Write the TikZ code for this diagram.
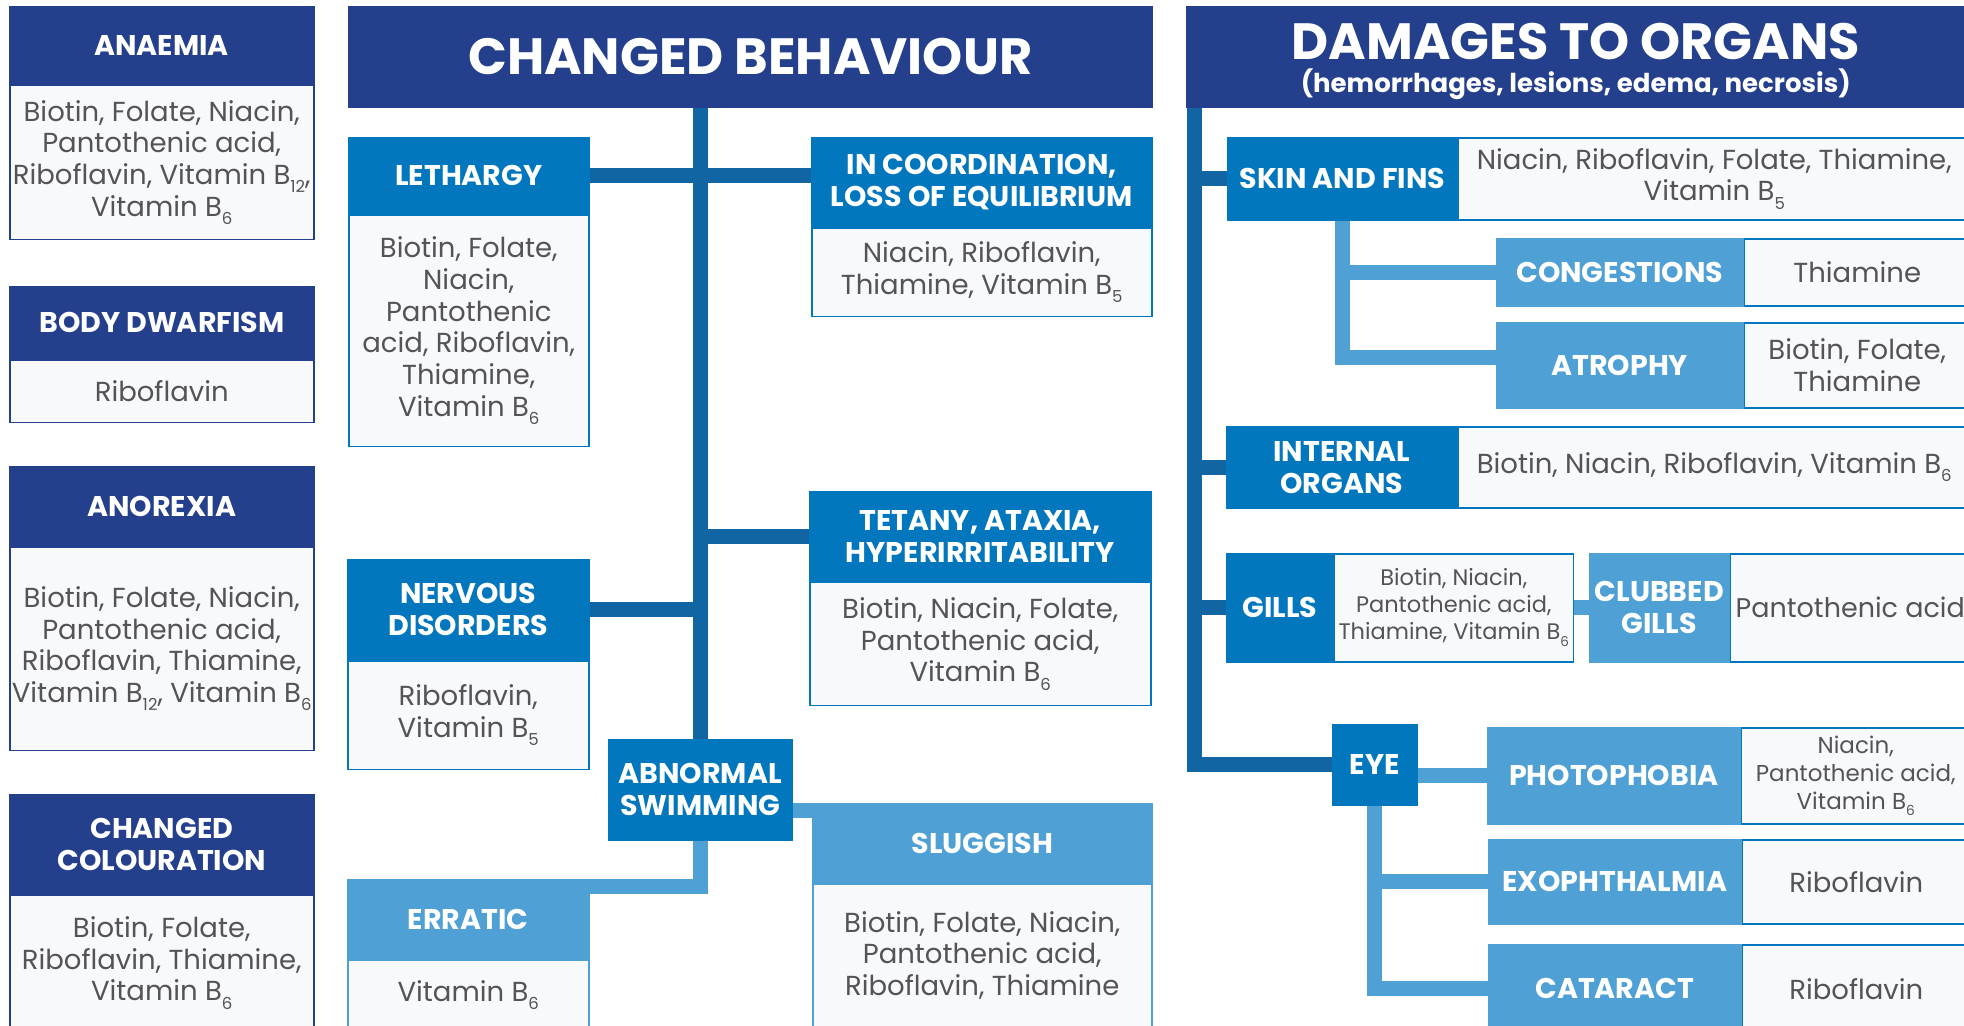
\documentclass[tikz,border=0pt]{standalone}
\usepackage{fontspec}
\setmainfont{Poppins}
\usetikzlibrary{positioning}
\definecolor{navy}{RGB}{36,63,139}
\definecolor{midblue}{RGB}{2,119,190}
\definecolor{lightblue}{RGB}{79,160,213}
\definecolor{linkblue}{RGB}{16,101,162}
\definecolor{cardfill}{RGB}{248,249,251}
\definecolor{cardtext}{RGB}{84,84,88}
\pgfdeclarelayer{background}
\pgfsetlayers{background,main}
\def\headfont{\bfseries\fontsize{28.5}{31.7}\selectfont}
\def\titlefont{\bfseries\fontsize{51}{54}\selectfont}
\def\subtitlefont{\bfseries\fontsize{26}{28}\selectfont}
\def\cardfont{\fontsize{27.5}{31.7}\selectfont}
\def\gillsfont{\fontsize{22.5}{27}\selectfont}
\def\photofont{\fontsize{23}{28}\selectfont}
\newcommand\vsub[1]{\raisebox{-0.3em}{\scalebox{0.6}{#1}}}
\tikzstyle{head}=[rectangle, anchor=north west, inner sep=0pt, text=white, font=\headfont, align=center, line width=1.5pt]
\tikzstyle{navyhead}=[head, fill=navy, draw=navy]
\tikzstyle{bluehead}=[head, fill=midblue, draw=midblue]
\tikzstyle{lighthead}=[head, fill=lightblue, draw=lightblue]
\tikzstyle{card}=[rectangle, anchor=north west, inner sep=0pt, fill=cardfill, text=cardtext, font=\cardfont, align=center, line width=1.5pt]
\tikzset{box/.style 2 args={minimum width=#1, minimum height=#2},
  darklink/.style={draw=linkblue, line width=15pt},
  lightlink/.style={draw=lightblue, line width=15pt}}

\begin{document}
\begin{tikzpicture}[x=1pt, y=-1pt]
\clip (0,0) rectangle (1964,1025);

\node[navyhead, box={304}{77}] (anaemia) at (9,6) {ANAEMIA};
\node[card, draw=navy, box={304}{154}, below=0pt of anaemia] (anaemiatxt) {Biotin, Folate, Niacin,\\Pantothenic acid,\\Riboflavin, Vitamin B\vsub{12},\\Vitamin B\vsub{6}};
\node[navyhead, box={304}{72}] (dwarfism) at (9,286) {BODY DWARFISM};
\node[card, draw=navy, box={304}{62}, below=0pt of dwarfism] (dwarfismtxt) {Riboflavin};
\node[navyhead, box={304}{79}] (anorexia) at (9,466) {ANOREXIA};
\node[card, draw=navy, box={304}{203}, below=0pt of anorexia] (anorexiatxt) {Biotin, Folate, Niacin,\\Pantothenic acid,\\Riboflavin, Thiamine,\\Vitamin B\vsub{12}, Vitamin B\vsub{6}};
\node[navyhead, box={304}{99}] (colour) at (9,794) {CHANGED\\COLOURATION};
\node[card, draw=navy, box={304}{135}, below=0pt of colour] (colourtxt) {Biotin, Folate,\\Riboflavin, Thiamine,\\Vitamin B\vsub{6}};

\node[navyhead, box={803}{100}, font=\titlefont] (behaviour) at (348,6) {CHANGED BEHAVIOUR};
\node[bluehead, box={240}{76}] (lethargy) at (348,137) {LETHARGY};
\node[card, draw=midblue, box={240}{231}, below=0pt of lethargy] (lethargytxt) {Biotin, Folate,\\Niacin,\\Pantothenic\\acid, Riboflavin,\\Thiamine,\\Vitamin B\vsub{6}};
\node[bluehead, box={340}{89}] (incoord) at (811,137) {IN COORDINATION,\\LOSS OF EQUILIBRIUM};
\node[card, draw=midblue, box={340}{88}, below=0pt of incoord] (incoordtxt) {Niacin, Riboflavin,\\Thiamine, Vitamin B\vsub{5}};
\node[bluehead, box={341}{89}] (tetany) at (809,491) {TETANY, ATAXIA,\\HYPERIRRITABILITY};
\node[card, draw=midblue, box={341}{123}, below=0pt of tetany] (tetanytxt) {Biotin, Niacin, Folate,\\Pantothenic acid,\\Vitamin B\vsub{6}};
\node[bluehead, box={241}{100}] (nervous) at (347,559) {NERVOUS\\DISORDERS};
\node[card, draw=midblue, box={241}{108}, below=0pt of nervous] (nervoustxt) {Riboflavin,\\Vitamin B\vsub{5}};
\node[bluehead, box={183}{100}] (abnormal) at (608,739) {ABNORMAL\\SWIMMING};
\node[lighthead, box={339}{79}] (sluggish) at (812,803) {SLUGGISH};
\node[card, draw=lightblue, box={339}{142}, below=0pt of sluggish] (sluggishtxt) {Biotin, Folate, Niacin,\\Pantothenic acid,\\Riboflavin, Thiamine};
\node[lighthead, box={241}{79}] (erratic) at (347,879) {ERRATIC};
\node[card, draw=lightblue, box={241}{70}, below=0pt of erratic] (erratictxt) {Vitamin B\vsub{6}};

\node[navyhead, box={778}{100}] (damages) at (1186,6) {{\titlefont\rule{0pt}{46pt}DAMAGES TO ORGANS}\\[1pt]{\subtitlefont (hemorrhages, lesions, edema, necrosis)}};
\coordinate (orgtrunk) at ([xshift=8pt]damages.south west);
\node[bluehead, box={229}{82}] (skin) at (1227,137) {SKIN AND FINS};
\node[card, draw=midblue, box={512}{82}, right=0pt of skin] (skintxt) {Niacin, Riboflavin, Folate, Thiamine,\\Vitamin B\vsub{5}};
\node[lighthead, box={246}{67}] (congest) at (1496,238) {CONGESTIONS};
\node[card, draw=midblue, box={226}{67}, right=0pt of congest] (congesttxt) {Thiamine};
\node[lighthead, box={246}{85}] (atrophy) at (1496,322) {ATROPHY};
\node[card, draw=midblue, box={226}{85}, right=0pt of atrophy] (atrophytxt) {Biotin, Folate,\\Thiamine};
\node[bluehead, box={230}{81}] (internal) at (1226,426) {INTERNAL\\ORGANS};
\node[card, draw=midblue, box={512}{81}, right=0pt of internal] (internaltxt) {Biotin, Niacin, Riboflavin, Vitamin B\vsub{6}};
\node[bluehead, box={106}{108}] (gills) at (1226,553) {GILLS};
\node[card, draw=midblue, box={239}{108}, right=0pt of gills, font=\gillsfont] (gillstxt) {Biotin, Niacin,\\Pantothenic acid,\\Thiamine, Vitamin B\vsub{6}};
\node[lighthead, box={139}{108}] (clubbed) at (1589,553) {CLUBBED\\GILLS};
\node[card, draw=midblue, box={240}{108}, right=0pt of clubbed, font=\fontsize{27}{31.7}\selectfont] (clubbedtxt) {Pantothenic acid};
\node[bluehead, box={84}{80}] (eye) at (1332,724) {EYE};
\node[lighthead, box={252}{96}] (photo) at (1487,727) {PHOTOPHOBIA};
\node[card, draw=midblue, box={229}{96}, right=0pt of photo, font=\photofont] (phototxt) {Niacin,\\Pantothenic acid,\\Vitamin B\vsub{6}};
\node[lighthead, box={252}{84}] (exo) at (1488,839) {EXOPHTHALMIA};
\node[card, draw=midblue, box={228}{84}, right=0pt of exo] (exotxt) {Riboflavin};
\node[lighthead, box={252}{88}] (cataract) at (1488,944) {CATARACT};
\node[card, draw=midblue, box={228}{88}, right=0pt of cataract] (cataracttxt) {Riboflavin};

\begin{pgfonlayer}{background}
\fill[white] (0,0) rectangle (1964,1025);
\draw[darklink] (abnormal.north |- behaviour.south) -- (abnormal.north);
\draw[darklink] (lethargy.east) -- (lethargy.east -| incoord.west);
\draw[darklink] (tetany.west) -- (tetany.west -| abnormal.north);
\draw[darklink] (nervous.east) -- (nervous.east -| abnormal.north);
\draw[lightlink] ([yshift=-7.5pt]sluggish.north west) -- ([yshift=-7.5pt]sluggish.north west -| abnormal.east);
\draw[lightlink] ([yshift=-7.5pt]erratic.north east) -| (abnormal.south);
\draw[darklink] (orgtrunk) |- (eye.west);
\draw[darklink] (skin.west) -- (skin.west -| orgtrunk);
\draw[darklink] (internal.west) -- (internal.west -| orgtrunk);
\draw[darklink] (gills.west) -- (gills.west -| orgtrunk);
\draw[lightlink] (skin.south) |- ([yshift=8pt]atrophy.west);
\draw[lightlink] (congest.west) -| (skin.south);
\draw[lightlink] (gillstxt.east) -- (clubbed.west);
\draw[lightlink] (photo.west) -- (photo.west -| eye.east);
\draw[lightlink] (eye.south) |- (cataract.west);
\draw[lightlink] (exo.west) -| (eye.south);
\end{pgfonlayer}
\end{tikzpicture}
\end{document}
